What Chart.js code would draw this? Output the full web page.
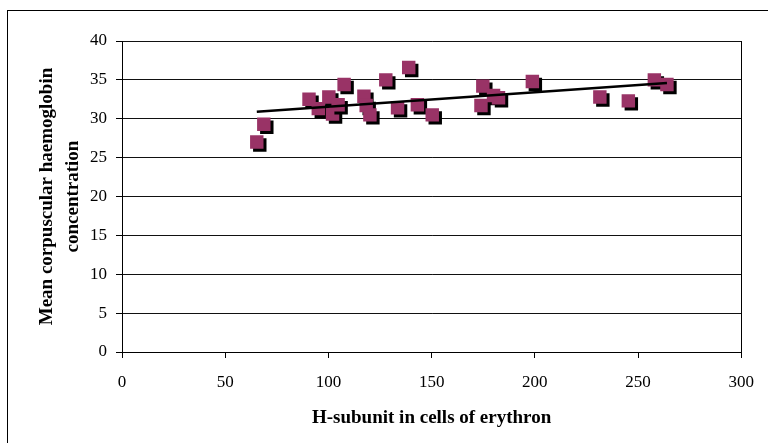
<!doctype html>
<html>
<head>
  <meta charset="utf-8">
  <title>MCHC vs H-subunit</title>
  <style>
    html, body { margin: 0; padding: 0; background: #fff; }
    #wrap { width: 768px; height: 443px; }
  </style>
</head>
<body>
<div id="wrap"><canvas id="chart" width="768" height="443"></canvas></div>

<script src="https://cdn.jsdelivr.net/npm/chart.js"></script>
<script>

	// H-subunit in cells of erythron (x) and MCHC (y)
	const hSubunit = [65.3, 68.7, 90.6, 95.1, 100.2, 102.0, 104.7, 107.6, 117.2, 118.3, 120.1, 127.8, 133.5,
		138.9, 143.1, 150.3, 173.9, 174.8, 180.0, 182.4, 198.8, 231.5, 245.3, 257.9, 264.0]
	const mchc = [27.0, 29.3, 32.5, 31.3, 32.8, 30.6, 31.8, 34.4, 32.9, 31.7, 30.5, 35.0, 31.4,
		36.6, 31.8, 30.5, 31.7, 34.2, 33.0, 32.7, 34.8, 32.8, 32.3, 35.0, 34.4]

	const xTicks = [0, 50, 100, 150, 200, 250, 300]
	const yTicks = [0, 5, 10, 15, 20, 25, 30, 35, 40]

	const points = hSubunit.map((x, i) => ({ x: x, y: mchc[i] }))

	// least squares trend line across the range of x
	function trend(xs, ys){
		const n = xs.length
		const mx = xs.reduce((a, b) => a + b, 0) / n
		const my = ys.reduce((a, b) => a + b, 0) / n
		let sxy = 0, sxx = 0
		xs.forEach((x, i) => {
			sxy += (x - mx) * (ys[i] - my)
			sxx += (x - mx) * (x - mx)
		})
		const b = sxy / sxx
		const a = my - b * mx
		const x0 = Math.min(...xs), x1 = Math.max(...xs)
		return [{ x: x0, y: a + b * x0 }, { x: x1, y: a + b * x1 }]
	}

	const serif = 'Liberation Serif, Times New Roman, serif'

	// outer frame of the chart
	const frame = {
		id: 'frame',
		beforeDraw(chart){
			const ctx = chart.ctx
			ctx.save()
			ctx.fillStyle = '#fff'
			ctx.fillRect(0, 0, chart.width, chart.height)
			ctx.strokeStyle = '#000'
			ctx.lineWidth = 1
			ctx.strokeRect(7.5, 10.5, chart.width + 20, chart.height + 20)
			ctx.restore()
		}
	}

	// black drop shadow under the square markers
	const markerShadow = {
		id: 'markerShadow',
		beforeDatasetDraw(chart, args){
			if (args.index !== 0) return
			const ctx = chart.ctx
			ctx.save()
			ctx.shadowColor = '#000'
			ctx.shadowOffsetX = 3
			ctx.shadowOffsetY = 3
			ctx.shadowBlur = 0
		},
		afterDatasetDraw(chart, args){
			if (args.index !== 0) return
			chart.ctx.restore()
		}
	}

	new Chart(document.getElementById('chart'), {
		type: 'scatter',
		data: {
			datasets: [{
				data: points,
				pointStyle: 'rect',
				pointRadius: 9.5,
				backgroundColor: '#993366',
				borderColor: '#993366',
				borderWidth: 0,
				order: 2,
			}, {
				type: 'line',
				data: trend(hSubunit, mchc),
				borderColor: '#000',
				borderWidth: 2.5,
				pointRadius: 0,
				fill: false,
				order: 1,
			}]
		},
		options: {
			responsive: false,
			animation: false,
			events: [],
			layout: { padding: { left: 0, top: 41, right: 21, bottom: 0 } },
			plugins: {
				legend: { display: false },
				tooltip: { enabled: false },
			},
			scales: {
				x: {
					type: 'linear',
					min: 0,
					max: 300,
					afterBuildTicks: s => { s.ticks = xTicks.map(v => ({ value: v })) },
					afterFit: s => { s.height = 91 },
					grid: {
						color: c => c.tick && c.tick.value === 300 ? '#000' : 'rgba(0,0,0,0)',
						tickColor: '#000',
						tickLength: 6,
					},
					border: { color: '#000', width: 1 },
					ticks: {
						color: '#000',
						padding: 14,
						maxRotation: 0,
						font: { family: serif, size: 17 },
					},
					title: {
						display: true,
						text: 'H-subunit in cells of erythron',
						color: '#000',
						font: { family: serif, size: 19, weight: 'bold' },
						padding: { top: 0, bottom: 14 },
					},
				},
				y: {
					min: 0,
					max: 40,
					afterBuildTicks: s => { s.ticks = yTicks.map(v => ({ value: v })) },
					afterFit: s => { s.width = 122 },
					grid: {
						color: '#111',
						tickColor: '#000',
						tickLength: 6,
					},
					border: { color: '#000', width: 1 },
					ticks: {
						color: '#000',
						padding: 9,
						font: { family: serif, size: 17 },
					},
					title: {
						display: true,
						text: ['Mean corpuscular haemoglobin', 'concentration'],
						color: '#000',
						font: { family: serif, size: 19, weight: 'bold', lineHeight: 1.32 },
						padding: { top: 35, bottom: 0 },
					},
				},
			},
		},
		plugins: [frame, markerShadow],
	})

</script>
</body>
</html>
